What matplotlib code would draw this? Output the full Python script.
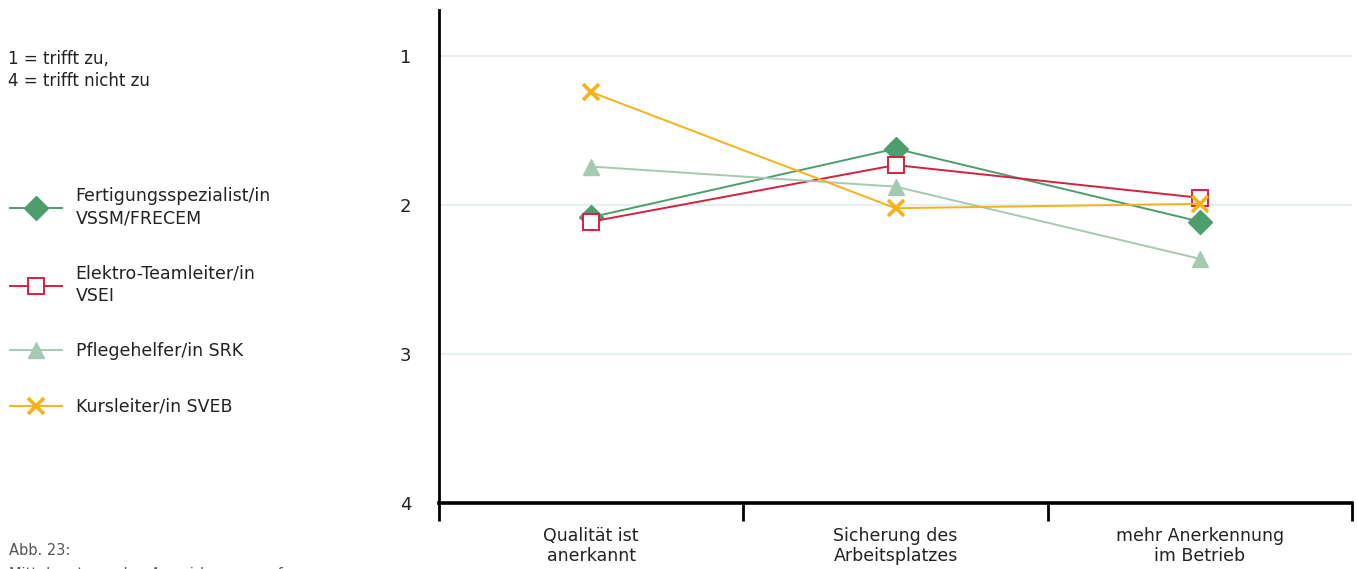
import matplotlib.pyplot as plt

# Kategorien und Mittelwerte (1 = trifft zu, 4 = trifft nicht zu)
categories = ["Qualität ist\nanerkannt", "Sicherung des\nArbeitsplatzes", "mehr Anerkennung\nim Betrieb"]
fertigung = [2.08, 1.62, 2.11]
elektro = [2.11, 1.73, 1.95]
pflege = [1.74, 1.875, 2.36]
kurs = [1.24, 2.02, 1.99]

labels = ["Fertigungsspezialist/in\nVSSM/FRECEM", "Elektro-Teamleiter/in\nVSEI",
          "Pflegehelfer/in SRK", "Kursleiter/in SVEB"]
yticks = [1, 2, 3, 4]

plt.rcParams['font.family'] = ['DejaVu Sans']
txt = '#222222'

fig = plt.figure(figsize=(13.57, 5.69), dpi=100)
ax = fig.add_axes([0.3235, 0.116, 0.673, 0.866])

x = [0, 1, 2]
styles = [
    (fertigung, dict(color='#4e9d6c', marker='D', markersize=12, lw=1.4)),
    (elektro, dict(color='#d2213f', marker='s', markersize=11, lw=1.4,
                   markerfacecolor='white', markeredgewidth=1.4)),
    (pflege, dict(color='#a8c9b1', marker='^', markersize=12, lw=1.4)),
    (kurs, dict(color='#f6b21b', marker='x', markersize=11, lw=1.4, markeredgewidth=2.6)),
]
handles = []
for vals, st in styles:
    h, = ax.plot(x, vals, **st)
    handles.append(h)

ax.set_xlim(-0.5, 2.5)
ax.set_ylim(4, 0.69)
ax.set_yticks(yticks)
ax.set_yticklabels([str(t) for t in yticks], fontsize=13, color=txt)
ax.tick_params(axis='y', length=0, pad=20)
for t in yticks[:-1]:
    ax.axhline(t, color='#e6eef0', lw=1.6, zorder=0)

ax.set_xticks(x)
ax.set_xticklabels(categories, fontsize=12.5, color=txt, linespacing=1.2)
ax.tick_params(axis='x', length=0, pad=17)
ax.set_xticks([-0.5, 0.5, 1.5, 2.5], minor=True)
ax.tick_params(axis='x', which='minor', length=13, width=2, color='black', direction='out')

for s in ['top', 'right']:
    ax.spines[s].set_visible(False)
ax.spines['left'].set_linewidth(2)
ax.spines['bottom'].set_linewidth(2.6)

fig.text(0.006, 0.913, "1 = trifft zu,\n4 = trifft nicht zu", fontsize=12, color=txt,
         va='top', linespacing=1.3)

leg = fig.legend(handles, labels, loc='upper left', bbox_to_anchor=(0.002, 0.683),
                 frameon=False, fontsize=12.5, handlelength=3.0, handletextpad=0.8,
                 labelspacing=2.15, borderaxespad=0)
for t in leg.get_texts():
    t.set_color(txt)
    t.set_linespacing(1.3)

fig.text(0.0065, 0.025, "Abb. 23:", fontsize=10.5, color='#555555')
fig.text(0.0065, -0.018, "Mittelwerte zu den Auswirkungen auf", fontsize=10.5, color='#555555')

fig.savefig('out.png', dpi=100)
